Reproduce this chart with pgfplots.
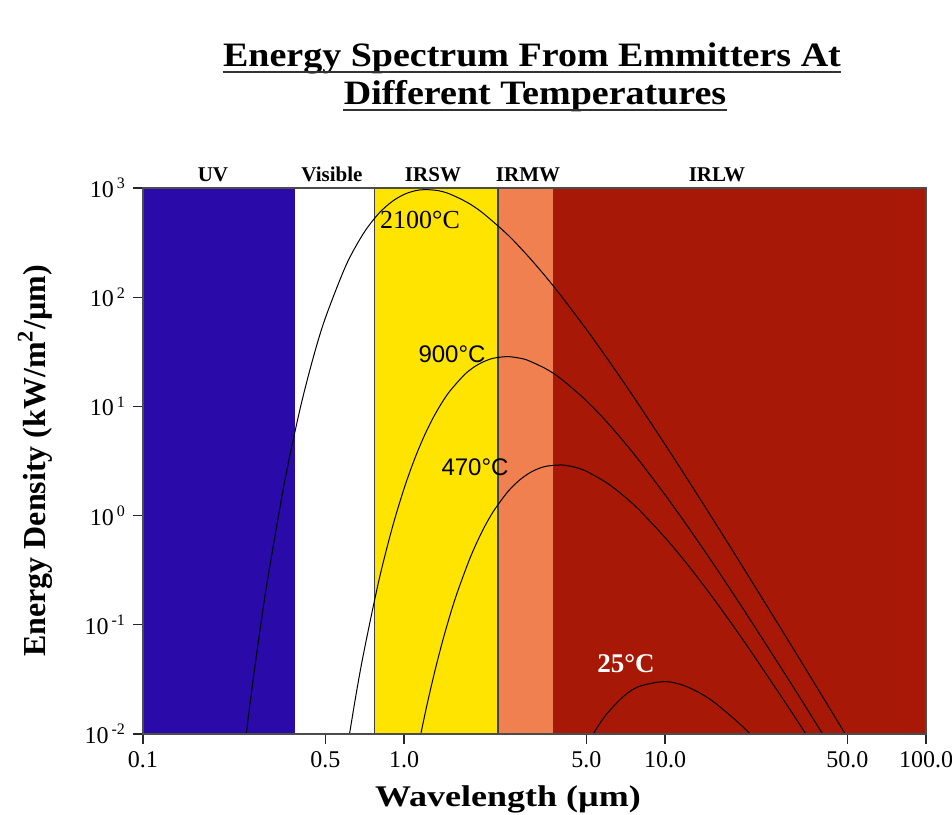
\documentclass[border=0pt]{standalone}
\usepackage{fontspec}
\setmainfont{Liberation Serif}
\setsansfont{Liberation Sans}
\usepackage{pgfplots}
\pgfplotsset{compat=1.18}
\definecolor{uvblue}{RGB}{42,10,168}
\definecolor{irsw}{RGB}{255,228,0}
\definecolor{irmw}{RGB}{240,128,80}
\definecolor{irlw}{RGB}{168,24,6}
\begin{document}
\begin{tikzpicture}
\useasboundingbox (-71.5pt,-40pt) rectangle (404.5pt,367pt);
\begin{axis}[
  at={(0pt,0pt)}, anchor=south west,
  scale only axis, width=391.5pt, height=273pt,
  xmode=log, ymode=log,
  xmin=0.1, xmax=100, ymin=0.01, ymax=1000,
  xtick={0.1,0.5,1,5,10,50,100},
  xticklabels={0.1,0.5,1.0,5.0,10.0,50.0,100.0},
  ytick={0.01,0.1,1,10,100,1000},
  yticklabels={{10\textsuperscript{\kern1.5pt-2}},{10\textsuperscript{\kern1.5pt-1}},{10\textsuperscript{\kern1.5pt0}},{10\textsuperscript{\kern1.5pt1}},{10\textsuperscript{\kern1.5pt2}},{10\textsuperscript{\kern1.5pt3}}},
  xminorticks=false, yminorticks=false,
  tick align=outside, xtick pos=left, ytick pos=left,
  major tick length=5pt,
  tick style={black!85, line width=0.6pt},
  axis line style={black!70, line width=0.6pt},
  tick label style={font=\fontsize{12}{14}\selectfont},
  axis on top,
]
% spectral bands
\addplot[draw=none, fill=uvblue] coordinates {(0.1,0.01) (0.1,1000) (0.382,1000) (0.382,0.01)};
\addplot[draw=none, fill=white] coordinates {(0.382,0.01) (0.382,1000) (0.77,1000) (0.77,0.01)};
\addplot[draw=none, fill=irsw] coordinates {(0.77,0.01) (0.77,1000) (2.29,1000) (2.29,0.01)};
\addplot[draw=none, fill=irmw] coordinates {(2.29,0.01) (2.29,1000) (3.72,1000) (3.72,0.01)};
\addplot[draw=none, fill=irlw] coordinates {(3.72,0.01) (3.72,1000) (100,1000) (100,0.01)};
\addplot[black!75, line width=0.6pt] coordinates {(0.77,0.01) (0.77,1000)};
\addplot[black!75, line width=0.6pt] coordinates {(2.29,0.01) (2.29,1000)};
% 2100 C
\addplot[black, line width=0.5pt, smooth] coordinates {
(0.24,0.00501) (0.26,0.0234) (0.28,0.0857) (0.3,0.257) (0.35,2.13) (0.4,9.54) (0.45,28.54) (0.5,64.8)
(0.6,196.7) (0.7,385) (0.8,584) (0.9,752) (1.0,873) (1.1,942) (1.2,967)
(1.35,946) (1.5,880) (1.75,736) (2,593) (2.5,372) (3,235) (3.5,153.1) (4,102.8) (5,50.7) (6,27.54) (7,16.2) (8,10.07)
(10,4.49) (12,2.287) (15,0.989) (20,0.330) (30,0.0688) (40,0.0223) (50,0.00929) (60,0.00452)};
% 900 C
\addplot[black, line width=0.5pt, smooth] coordinates {
(0.6,0.00637) (0.65,0.0206) (0.7,0.0546) (0.8,0.2504) (0.9,0.763) (1.0,1.762) (1.1,3.337)
(1.2,5.47) (1.3,8.05) (1.4,10.90) (1.5,13.84) (1.7,19.40) (1.85,22.82) (2,25.4) (2.2,27.62) (2.5,28.56) (2.8,27.56) (3,26.26) (3.5,22.08) (4,17.85) (5,11.27)
(6,7.155) (7,4.67) (8,3.143) (10,1.553) (12,0.845) (15,0.3896) (20,0.1381) (30,0.0305) (40,0.01018) (50,0.00431)};
% 470 C
\addplot[black, line width=0.5pt, smooth] coordinates {
(1.0,0.001456) (1.1,0.00526) (1.2,0.01476) (1.3,0.0342) (1.4,0.0685) (1.5,0.1219) (1.6,0.1978) (1.8,0.4212) (2,0.7295) (2.2,1.092)
(2.5,1.658) (2.75,2.082) (3,2.426) (3.25,2.674) (3.5,2.829) (4,2.909) (4.5,2.780) (5,2.543) (6,1.987) (7,1.494) (8,1.114)
(10,0.630) (12,0.374) (15,0.187) (20,0.0716) (30,0.01698) (40,0.00587)};
% 25 C
\addplot[black, line width=0.5pt, smooth] coordinates {
(4,0.00209) (5,0.00767) (5.5,0.01145) (6,0.01541) (7,0.02252) (8,0.0274)
(10,0.03018) (12,0.0274) (15,0.02054) (20,0.01149) (25,0.0065) (30,0.00385)};
\end{axis}
% band labels
\begin{scope}[every node/.style={anchor=base, inner sep=0pt, font=\bfseries\fontsize{10.5}{12}\selectfont}]
\node at (35pt,276pt) {UV};
\node at (94.5pt,276pt) {Visible};
\node at (145pt,276pt) {IRSW};
\node at (192.5pt,276pt) {IRMW};
\node at (287pt,276pt) {IRLW};
\end{scope}
% curve labels
\node[font=\fontsize{13}{15}\selectfont] at (138.5pt,257pt) {2100°C};
\node[font=\sffamily\fontsize{12}{14}\selectfont] at (154.5pt,190pt) {900°C};
\node[font=\sffamily\fontsize{12}{14}\selectfont] at (166pt,133.5pt) {470°C};
\node[font=\bfseries\fontsize{13.5}{15}\selectfont, text=white] at (241.5pt,35pt) {25°C};
% title
\node[anchor=base, inner sep=0pt, font=\bfseries\fontsize{19}{22}\selectfont] (t1) at (194.5pt,333.5pt) {\scalebox{1}[0.9]{Energy Spectrum From Emmitters At}};
\node[anchor=base, inner sep=0pt, font=\bfseries\fontsize{19}{22}\selectfont] (t2) at (196pt,314.5pt) {\scalebox{1}[0.9]{Different Temperatures}};
\draw[line width=1pt, black!80] ([yshift=-2.5pt]t1.base west) -- ([yshift=-2.5pt]t1.base east);
\draw[line width=1pt, black!80] ([yshift=-2.5pt]t2.base west) -- ([yshift=-2.5pt]t2.base east);
% axis labels
\node[rotate=90, font=\bfseries\fontsize{16}{18}\selectfont] at (-54pt,136.5pt) {Energy Density (kW/m\textsuperscript{2}/µm)};
\node[anchor=base, font=\bfseries\fontsize{15}{17}\selectfont] at (182.5pt,-36pt) {\scalebox{1.2}[1]{Wavelength (µm)}};
\end{tikzpicture}
\end{document}
